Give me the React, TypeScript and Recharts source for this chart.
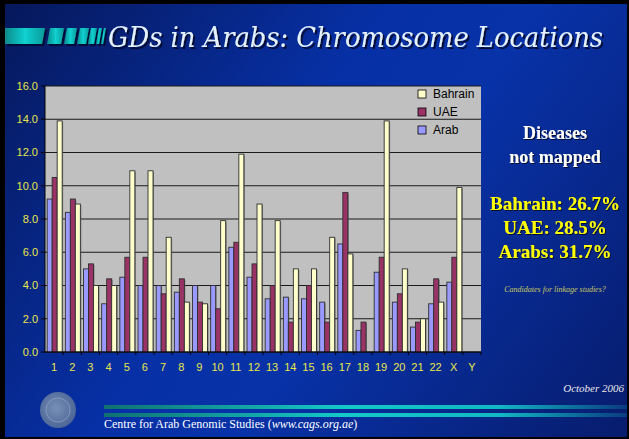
import React from 'react';
import { BarChart, Bar, XAxis, YAxis, CartesianGrid } from 'recharts';

const chromosomes = ['1','2','3','4','5','6','7','8','9','10','11','12','13','14','15','16','17','18','19','20','21','22','X','Y'];
const arab = [9.2, 8.4, 5.0, 2.9, 4.5, 4.0, 4.0, 3.6, 4.0, 4.0, 6.3, 4.5, 3.2, 3.3, 3.2, 3.0, 6.5, 1.3, 4.8, 3.0, 1.5, 2.9, 4.2, 0];
const uae = [10.5, 9.2, 5.3, 4.4, 5.7, 5.7, 3.5, 4.4, 3.0, 2.6, 6.6, 5.3, 4.0, 1.8, 4.0, 1.8, 9.6, 1.8, 5.7, 3.5, 1.8, 4.4, 5.7, 0];
const bahrain = [13.9, 8.9, 4.0, 4.0, 10.9, 10.9, 6.9, 3.0, 2.9, 7.9, 11.9, 8.9, 7.9, 5.0, 5.0, 6.9, 5.9, 0, 13.9, 5.0, 2.0, 3.0, 9.9, 0];
const yTicks = [0, 2, 4, 6, 8, 10, 12, 14, 16];

const seriesKeys = ['arab', 'uae', 'bahrain'];
const seriesNames = ['Arab', 'UAE', 'Bahrain'];
const seriesColors = ['#9999ff', '#993366', '#ffffcc'];

const statLines = ['Bahrain: 26.7%', 'UAE: 28.5%', 'Arabs: 31.7%'];

const data = chromosomes.map((c, i) => ({ chr: c, arab: arab[i], uae: uae[i], bahrain: bahrain[i] }));

const TICK_YELLOW = '#e8e84a';

const BarShape = (props: any) => {
  const { x, y, width, height, fill } = props;
  if (!height || height <= 0) return null;
  return (
    <g>
      <rect x={x + 1} y={y + 1} width={width} height={height - 1} fill="#555" opacity={0.6} />
      <rect x={x} y={y} width={width} height={height} fill={fill} stroke="#2e2e2e" strokeWidth={0.9} />
    </g>
  );
};

const XTick = (props: any) => {
  const { x, y, payload } = props;
  const half = payload && payload.offset ? payload.offset : 9.06;
  return (
    <g>
      <line x1={x + half} x2={x + half} y1={y - 5} y2={y - 2} stroke="#000" strokeWidth={1} />
      <text x={x} y={y + 14} textAnchor="middle" fill={TICK_YELLOW} fontSize={11} fontFamily="Liberation Sans, Arial, sans-serif">
        {payload.value}
      </text>
    </g>
  );
};

export default function App() {
  const serifFont = 'Liberation Serif, Times New Roman, serif';
  return (
    <div
      style={{
        position: 'fixed',
        left: 0,
        top: 0,
        width: 629,
        height: 439,
        overflow: 'hidden',
        background: 'linear-gradient(125deg, #06185a 0%, #0730a6 42%, #0832a8 58%, #071c6c 100%)',
      }}
    >
      <svg width={629} height={439} style={{ position: 'absolute', left: 0, top: 0 }}>
        <defs>
          <linearGradient id="teal" x1="0" y1="0" x2="1" y2="0">
            <stop offset="0%" stopColor="#0a8a8a" />
            <stop offset="50%" stopColor="#12d0d0" />
            <stop offset="100%" stopColor="#0a9a9a" />
          </linearGradient>
          <linearGradient id="stripe" x1="0" y1="0" x2="1" y2="0">
            <stop offset="0%" stopColor="#107070" />
            <stop offset="45%" stopColor="#14c8c8" />
            <stop offset="75%" stopColor="#12b8c4" />
            <stop offset="100%" stopColor="#0a3a80" />
          </linearGradient>
          <radialGradient id="logo" cx="0.45" cy="0.45" r="0.6">
            <stop offset="0%" stopColor="#7890b8" />
            <stop offset="100%" stopColor="#4a6494" />
          </radialGradient>
          <filter id="titleShadow" x="-5%" y="-20%" width="110%" height="150%">
            <feDropShadow dx={2} dy={2} stdDeviation={0.4} floodColor="#000a38" floodOpacity={1} />
          </filter>
        </defs>
        {/* title decoration */}
        <g filter="url(#titleShadow)">
          <polygon points="5,28 45,28 42,44 5,44" fill="url(#teal)" />
          <polygon points="50,28 64,28 61,44 47,44" fill="url(#teal)" />
          <polygon points="67,28 77,28 74,44 64,44" fill="url(#teal)" />
          <polygon points="80,28 89,28 86,44 77,44" fill="url(#teal)" />
          <polygon points="91,28 97,28 94,44 88,44" fill="url(#teal)" />
          <polygon points="99,28 102,28 99,44 96,44" fill="url(#teal)" />
          <polygon points="104,28 106,28 103,44 101,44" fill="url(#teal)" />
        </g>
        <text x={108} y={47} fontFamily="DejaVu Serif, serif" fontStyle="italic" fontSize={27} fill="#e4f2ff" textLength={495} lengthAdjust="spacingAndGlyphs" filter="url(#titleShadow)">
          GDs in Arabs: Chromosome Locations
        </text>
        {/* footer */}
        <circle cx={58} cy={410} r={18} fill="url(#logo)" />
        <circle cx={58} cy={410} r={12} fill="none" stroke="#a8b8d4" strokeWidth={1} opacity={0.5} />
        <rect x={104} y={405} width={525} height={4} fill="url(#stripe)" />
        <rect x={104} y={413} width={525} height={4} fill="url(#stripe)" />
        <text x={624} y={392} textAnchor="end" fontFamily={serifFont} fontStyle="italic" fontSize={11} fill="#e8e8e8">
          October 2006
        </text>
        <text x={104} y={428} fontFamily={serifFont} fontSize={12} fill="#ffffff">
          Centre for Arab Genomic Studies (<tspan fontStyle="italic">www.cags.org.ae</tspan>)
        </text>
      </svg>

      <div style={{ position: 'absolute', left: 0, top: 0 }}>
        <BarChart
          width={629}
          height={439}
          data={data}
          margin={{ top: 86, right: 148, bottom: 57, left: 0 }}
          barCategoryGap="12%"
          barGap={0}
        >
          <CartesianGrid vertical={false} stroke="#1a1a1a" fill="#c0c0c0" fillOpacity={1} />
          <XAxis
            dataKey="chr"
            height={30}
            tickSize={3}
            tickMargin={2}
            tickLine={false}
            axisLine={{ stroke: '#000', strokeWidth: 1 }}
            tick={<XTick />}
            interval={0}
          />
          <YAxis
            width={45}
            domain={[0, 16]}
            ticks={yTicks}
            tickFormatter={(v: number) => v.toFixed(1)}
            tickSize={4}
            tickMargin={3}
            axisLine={{ stroke: '#000', strokeWidth: 1 }}
            tickLine={{ stroke: '#000' }}
            tick={{ fill: TICK_YELLOW, fontSize: 11, fontFamily: 'Liberation Sans, Arial, sans-serif' }}
            interval={0}
          />
          {seriesKeys.map((k, i) => (
            <Bar key={k} dataKey={k} name={seriesNames[i]} fill={seriesColors[i]} isAnimationActive={false} shape={<BarShape />} />
          ))}
        </BarChart>
      </div>

      <svg width={629} height={439} style={{ position: 'absolute', left: 0, top: 0, pointerEvents: 'none' }}>
        <defs>
          <filter id="textShadow" x="-5%" y="-20%" width="110%" height="150%">
            <feDropShadow dx={1} dy={1} stdDeviation={0.3} floodColor="#000a30" floodOpacity={1} />
          </filter>
        </defs>
        {/* legend */}
        {seriesNames
          .map((n, i) => ({ n, c: seriesColors[i] }))
          .reverse()
          .map((s, j) => (
            <g key={s.n}>
              <rect x={418} y={90 + j * 18} width={8} height={8} fill={s.c} stroke="#000" strokeWidth={0.8} />
              <text x={433} y={98 + j * 18} fontSize={12} fontFamily="Liberation Sans, Arial, sans-serif" fill="#000">
                {s.n}
              </text>
            </g>
          ))}
        {/* right side text */}
        <g fontFamily={serifFont} fontWeight="bold" textAnchor="middle" filter="url(#textShadow)">
          <text x={555} y={139} fontSize={18} fill="#ffffff">Diseases</text>
          <text x={555} y={163} fontSize={18} fill="#ffffff">not mapped</text>
          {statLines.map((t, i) => (
            <text key={t} x={555} y={210 + i * 24} fontSize={19} fill="#ffff00">{t}</text>
          ))}
        </g>
        <text x={555} y={292} textAnchor="middle" fontFamily={serifFont} fontStyle="italic" fontSize={8} fill="#c8c860">
          Candidates for linkage studies?
        </text>
      </svg>

      {/* slide frame */}
      <div
        style={{
          position: 'absolute',
          left: 0,
          top: 0,
          width: 629,
          height: 439,
          boxSizing: 'border-box',
          borderTop: '4px solid #000',
          borderLeft: '5px solid #000',
          borderBottom: '2px solid #000',
          borderRight: '2px solid #000',
          pointerEvents: 'none',
        }}
      />
    </div>
  );
}
